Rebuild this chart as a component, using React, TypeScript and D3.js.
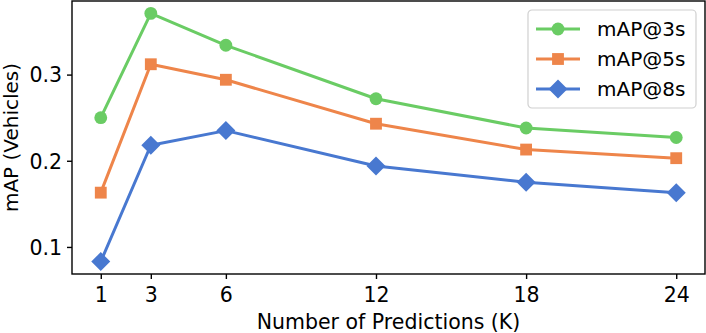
import React, { useEffect, useRef } from 'react';
import * as d3 from 'd3';

// number of predictions K
const kValues = [1, 3, 6, 12, 18, 24];
const xTicks = [1, 3, 6, 12, 18, 24];
const yTicks = [0.1, 0.2, 0.3];

// mAP per horizon
const map3s = [0.25, 0.371, 0.334, 0.272, 0.238, 0.227];
const map5s = [0.163, 0.312, 0.294, 0.243, 0.213, 0.203];
const map8s = [0.083, 0.218, 0.235, 0.194, 0.175, 0.163];

const seriesNames = ['mAP@3s', 'mAP@5s', 'mAP@8s'];
const seriesColors = ['#6acc64', '#ee854a', '#4878d0'];
const seriesMarkers = ['circle', 'square', 'diamond'];

const FONT = '"DejaVu Sans", sans-serif';

const App = () => {
  const ref = useRef<SVGSVGElement | null>(null);

  useEffect(() => {
    const width = 706;
    const height = 333;
    const margin = { top: 1, right: 1, bottom: 59, left: 72 };
    const innerW = width - margin.left - margin.right;
    const innerH = height - margin.top - margin.bottom;

    const svg = d3.select(ref.current);
    svg.selectAll('*').remove();
    const g = svg.append('g').attr('transform', `translate(${margin.left},${margin.top})`);

    // matplotlib-like 5% padding around the data
    const all = [...map3s, ...map5s, ...map8s];
    const yMin = d3.min(all) as number;
    const yMax = d3.max(all) as number;
    const yPad = (yMax - yMin) * 0.05;
    const xPad = (24 - 1) * 0.05;

    const x = d3.scaleLinear().domain([1 - xPad, 24 + xPad]).range([0, innerW]);
    const y = d3.scaleLinear().domain([yMin - yPad, yMax + yPad]).range([innerH, 0]);

    const xAxis = g.append('g').attr('transform', `translate(0,${innerH})`)
      .call(d3.axisBottom(x).tickValues(xTicks).tickFormat(d3.format('d')).tickSize(5).tickPadding(8));
    xAxis.select('.domain').remove();
    xAxis.selectAll('line').attr('stroke', '#000').attr('stroke-width', 1.4);
    xAxis.selectAll('text').style('font-family', FONT).style('font-size', '20.5px').attr('fill', '#000');

    const yAxis = g.append('g')
      .call(d3.axisLeft(y).tickValues(yTicks).tickFormat(d3.format('.1f')).tickSize(5).tickPadding(5));
    yAxis.select('.domain').remove();
    yAxis.selectAll('line').attr('stroke', '#000').attr('stroke-width', 1.4);
    yAxis.selectAll('text').style('font-family', FONT).style('font-size', '20.5px').attr('fill', '#000').attr('dy', '0.36em');

    const series = [map3s, map5s, map8s];

    const line = d3.line<number>().x((_, i) => x(kValues[i])).y((d) => y(d));

    const markerPath = (kind: string) => {
      if (kind === 'circle') return d3.symbol(d3.symbolCircle, 130)();
      if (kind === 'square') return d3.symbol(d3.symbolSquare, 140)();
      return 'M0,-9.5L9.5,0L0,9.5L-9.5,0Z';
    };

    series.forEach((vals, si) => {
      g.append('path')
        .datum(vals)
        .attr('d', line)
        .attr('fill', 'none')
        .attr('stroke', seriesColors[si])
        .attr('stroke-width', 3)
        .attr('stroke-linejoin', 'round');
      g.selectAll(`.m${si}`)
        .data(vals)
        .enter()
        .append('path')
        .attr('class', `m${si}`)
        .attr('transform', (d, i) => `translate(${x(kValues[i])},${y(d)})`)
        .attr('d', markerPath(seriesMarkers[si]))
        .attr('fill', seriesColors[si]);
    });

    // frame
    g.append('rect')
      .attr('width', innerW)
      .attr('height', innerH)
      .attr('fill', 'none')
      .attr('stroke', '#000')
      .attr('stroke-width', 1.4);

    // axis labels
    g.append('text')
      .attr('x', innerW / 2)
      .attr('y', innerH + 55)
      .attr('text-anchor', 'middle')
      .style('font-family', FONT)
      .style('font-size', '20.5px')
      .text('Number of Predictions (K)');

    svg.append('text')
      .attr('transform', `translate(18,${margin.top + innerH / 2}) rotate(-90)`)
      .attr('text-anchor', 'middle')
      .style('font-family', FONT)
      .style('font-size', '20px')
      .text('mAP (Vehicles)');

    // legend
    const lg = svg.append('g').attr('transform', 'translate(528,10)');
    lg.append('rect')
      .attr('width', 168)
      .attr('height', 98)
      .attr('rx', 4)
      .attr('fill', '#fff')
      .attr('fill-opacity', 0.8)
      .attr('stroke', '#d0d0d0')
      .attr('stroke-width', 1.2);
    seriesNames.forEach((name, i) => {
      const row = lg.append('g').attr('transform', `translate(0,${19 + i * 30})`);
      row.append('line').attr('x1', 8).attr('x2', 52).attr('stroke', seriesColors[i]).attr('stroke-width', 3);
      row.append('path').attr('transform', 'translate(30,0)').attr('d', markerPath(seriesMarkers[i])).attr('fill', seriesColors[i]);
      row.append('text')
        .attr('x', 69)
        .attr('y', 7)
        .style('font-family', FONT)
        .style('font-size', '20px')
        .text(name);
    });
  }, []);

  return (
    <svg
      ref={ref}
      width={706}
      height={333}
      style={{ position: 'absolute', left: 0, top: 0, background: '#fff' }}
    />
  );
};

export default App;
